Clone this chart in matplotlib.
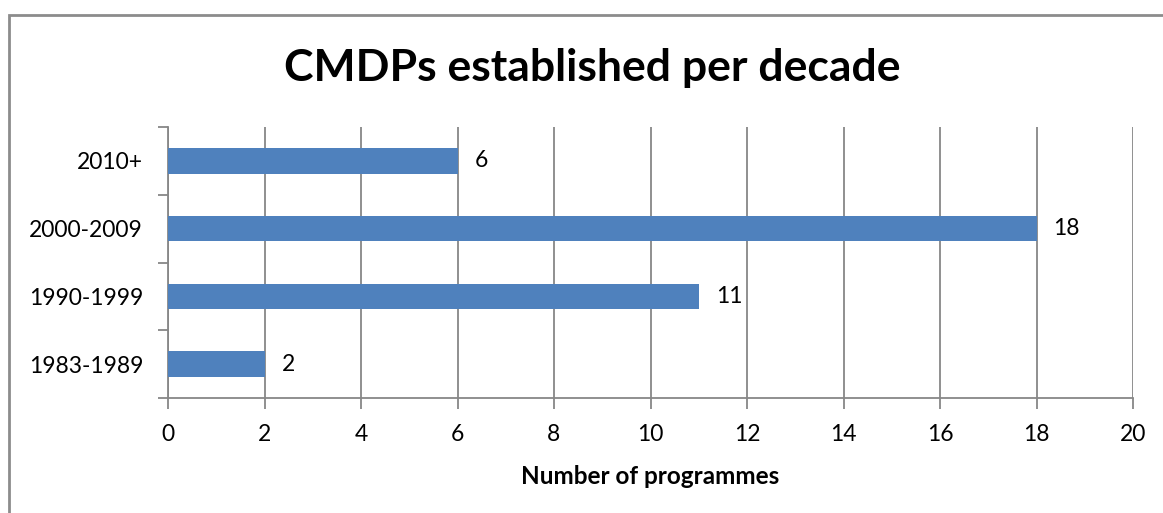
import matplotlib
matplotlib.use("Agg")
import matplotlib.pyplot as plt
from matplotlib.patches import Rectangle

categories = ["1983-1989", "1990-1999", "2000-2009", "2010+"]
values = [2, 11, 18, 6]
xticks = [0, 2, 4, 6, 8, 10, 12, 14, 16, 18, 20]

plt.rcParams['font.family'] = ['Lato', 'DejaVu Sans']
W, H = 1163, 513
fig = plt.figure(figsize=(W / 100, H / 100), dpi=100)
ax = fig.add_axes([168 / W, 1 - 398 / H, (1133 - 168) / W, (398 - 127) / H])

bar_color = "#4F81BD"
grid_color = "#878787"
ypos = list(range(len(categories)))
ax.barh(ypos, values, height=0.38, color=bar_color, zorder=3)
for y, v in zip(ypos, values):
    ax.text(v + 0.35, y, str(v), va="center", ha="left", fontsize=16.5, color="black")

ax.set_xlim(0, 20)
ax.set_ylim(-0.5, len(categories) - 0.5)
ax.set_xticks(xticks)
ax.set_xticklabels([str(t) for t in xticks], fontsize=16.5)
ax.set_yticks(ypos)
ax.set_yticklabels(categories, fontsize=16.5)
ax.set_yticks([i - 0.5 for i in range(len(categories) + 1)], minor=True)
ax.tick_params(axis="y", which="major", length=0, pad=18)
ax.tick_params(axis="y", which="minor", length=7, color=grid_color, width=1.3)
ax.tick_params(axis="x", which="major", length=8, color=grid_color, width=1.3, pad=11)
ax.xaxis.grid(True, color=grid_color, linewidth=1.3, zorder=0)
ax.set_axisbelow(True)
for s in ["top", "right"]:
    ax.spines[s].set_visible(False)
for s in ["left", "bottom"]:
    ax.spines[s].set_color(grid_color)
    ax.spines[s].set_linewidth(1.3)
ax.set_xlabel("Number of programmes", fontsize=17.5, fontweight="bold", labelpad=14)

fig.text(0.5 + 11 / W, 1 - 68 / H, "CMDPs established per decade", ha="center", va="center",
         fontsize=32, fontweight="bold")

fig.patches.append(Rectangle((9 / W, -0.1), 1.2, 1 - 14.5 / H + 0.1, transform=fig.transFigure,
                             fill=False, edgecolor="#8C8C8C", linewidth=2, figure=fig))

fig.savefig("out.png", dpi=100)
